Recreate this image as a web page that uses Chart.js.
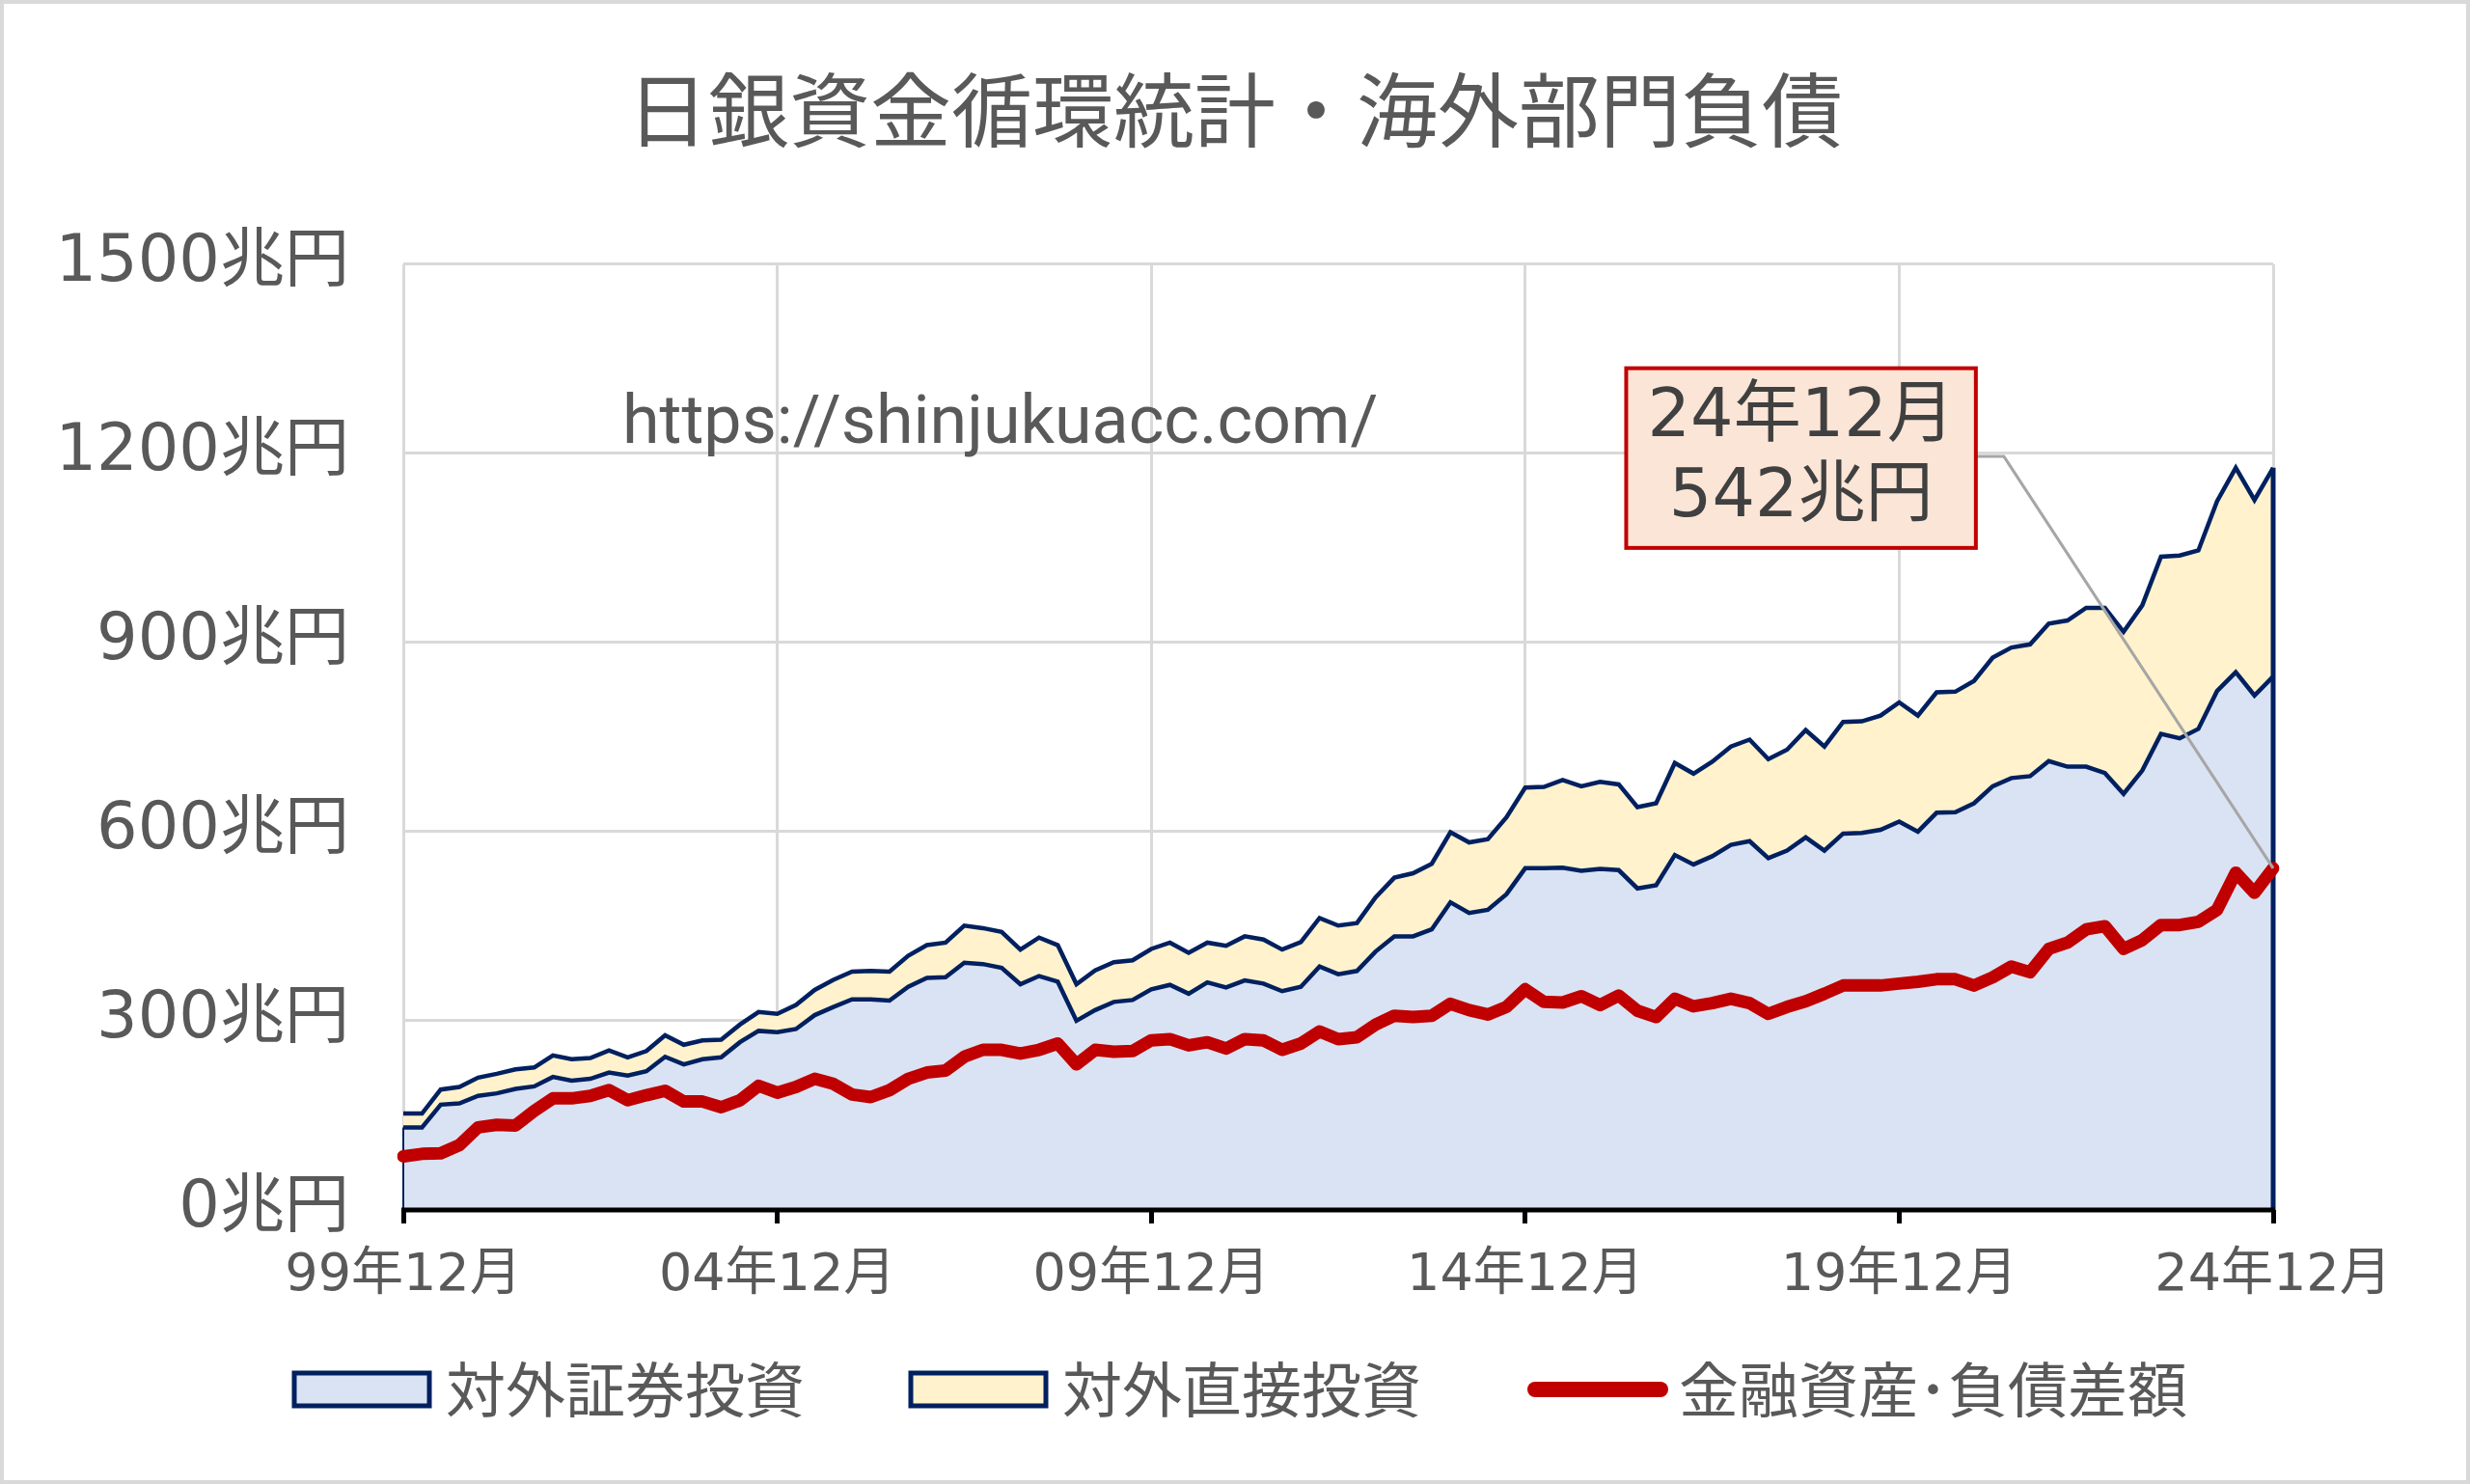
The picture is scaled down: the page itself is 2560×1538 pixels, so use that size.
<!DOCTYPE html>
<html lang="ja">
<head>
<meta charset="UTF-8">
<title>日銀資金循環統計・海外部門負債</title>
<script src="https://cdn.jsdelivr.net/npm/chart.js"></script>
<style>
  html, body { margin: 0; padding: 0; background: #fff; }
  #wrap { width: 2560px; height: 1538px; }
</style>
</head>
<body>
<div id="wrap"><canvas id="chart" width="2560" height="1538"></canvas></div>
<script>
  // quarterly labels, 99年12月 .. 24年12月
  const labels = [];
  for (let i = 0; i <= 100; i++) {
    const month = [12, 3, 6, 9][i % 4];
    const year = 1999 + Math.ceil(i / 4);
    labels.push(String(year % 100).padStart(2, '0') + '年' + month + '月');
  }

  // 対外証券投資 (兆円)
  const securities = [
    131, 131, 167, 169, 181, 185, 192, 196, 211, 205,
    208, 218, 213, 220, 243, 231, 239, 242, 266, 284,
    282, 287, 309, 322, 334, 334, 332, 354, 368, 369,
    392, 390, 384, 358, 371, 362, 300, 317, 330, 333,
    350, 357, 343, 361, 353, 364, 359, 347, 354, 386,
    374, 379, 410, 434, 434, 445, 488, 471, 476, 501,
    542, 542, 543, 538, 541, 539, 510, 515, 563, 548,
    561, 579, 585, 558, 570, 591, 570, 597, 598, 603,
    616, 600, 630, 631, 645, 672, 685, 688, 712, 703,
    703, 693, 660, 697, 755, 748, 763, 823, 853, 816, 846
  ];

  // 対外直接投資 (兆円)
  const direct = [
    22, 22, 24, 26, 29, 31, 31, 30, 34, 34,
    33, 35, 29, 32, 34, 31, 30, 28, 28, 30,
    29, 38, 40, 43, 44, 45, 46, 49, 52, 55,
    59, 57, 57, 55, 61, 58, 58, 63, 63, 63,
    64, 67, 65, 63, 66, 70, 70, 66, 71, 77,
    77, 76, 86, 93, 100, 104, 111, 112, 112, 122,
    128, 129, 139, 134, 138, 136, 129, 130, 146, 144,
    150, 156, 161, 157, 160, 170, 165, 177, 177, 181,
    189, 184, 191, 191, 194, 204, 207, 209, 218, 232,
    252, 262, 257, 262, 281, 290, 283, 301, 324, 310, 331
  ];

  // 金融資産・負債差額 (兆円)
  const netPosition = [
    85, 89, 90, 103, 131, 135, 134, 157, 177, 177,
    181, 190, 174, 182, 189, 172, 172, 163, 174, 197,
    186, 195, 208, 200, 183, 179, 190, 208, 218, 221,
    243, 254, 254, 248, 254, 264, 231, 254, 251, 252,
    269, 271, 261, 266, 256, 271, 269, 254, 264, 283,
    271, 274, 294, 308, 306, 308, 327, 317, 310, 322,
    350, 330, 329, 339, 325, 340, 316, 306, 335, 323,
    328, 335, 328, 311, 322, 331, 343, 356, 356, 356,
    359, 362, 366, 366, 356, 369, 386, 377, 414, 424,
    445, 450, 414, 428, 452, 452, 457, 476, 535, 503, 542
  ];

  const TEXT = '#595959';
  const GRID = '#D9D9D9';
  const NAVY = '#002060';
  const RED = '#C00000';
  const jpFont = '"Noto Sans CJK JP", sans-serif';
  const numFont = '"DejaVu Sans", "Noto Sans CJK JP", sans-serif';

  const overlay = {
    id: 'overlay',
    beforeDraw(chart) {
      const ctx = chart.ctx;
      ctx.save();
      ctx.fillStyle = '#fff';
      ctx.fillRect(0, 0, chart.width, chart.height);
      ctx.strokeStyle = GRID;
      ctx.lineWidth = 4;
      ctx.strokeRect(2, 2, chart.width - 4, chart.height - 4);
      ctx.restore();
    },
    afterDatasetDraw(chart, args) {
      if (args.index !== 1) return;
      // area outlines on the left and right edges
      const x = chart.scales.x, y = chart.scales.y, ctx = chart.ctx;
      const n = labels.length - 1;
      ctx.save();
      ctx.strokeStyle = NAVY;
      ctx.lineWidth = 2;
      ctx.beginPath();
      ctx.moveTo(x.getPixelForValue(0), y.getPixelForValue(0));
      ctx.lineTo(x.getPixelForValue(0), y.getPixelForValue(securities[0]));
      ctx.stroke();
      ctx.lineWidth = 5;
      ctx.beginPath();
      ctx.moveTo(x.getPixelForValue(n), y.getPixelForValue(0));
      ctx.lineTo(x.getPixelForValue(n), y.getPixelForValue(securities[n] + direct[n]));
      ctx.stroke();
      ctx.restore();
    },
    afterDatasetsDraw(chart) {
      const x = chart.scales.x, y = chart.scales.y, ctx = chart.ctx;
      const area = chart.chartArea;
      const n = labels.length - 1;
      ctx.save();

      // x axis line
      ctx.strokeStyle = '#000';
      ctx.lineWidth = 5;
      ctx.beginPath();
      ctx.moveTo(area.left - 2, y.getPixelForValue(0));
      ctx.lineTo(area.right + 2, y.getPixelForValue(0));
      ctx.stroke();

      // url
      ctx.fillStyle = TEXT;
      ctx.font = '70px Roboto';
      ctx.textAlign = 'left';
      ctx.textBaseline = 'alphabetic';
      ctx.fillText('https://shinjukuacc.com/', area.left + 227, area.top + 185);

      // callout for the last value
      const bx0 = x.getPixelForValue(65.4), bx1 = x.getPixelForValue(84.1);
      const by0 = y.getPixelForValue(1335), by1 = y.getPixelForValue(1050);
      const ly = y.getPixelForValue(1195);
      ctx.strokeStyle = '#A6A6A6';
      ctx.lineWidth = 3;
      ctx.beginPath();
      ctx.moveTo(bx1, ly);
      ctx.lineTo(x.getPixelForValue(85.6), ly);
      ctx.lineTo(x.getPixelForValue(n), y.getPixelForValue(netPosition[n]));
      ctx.stroke();

      ctx.fillStyle = '#FBE5D6';
      ctx.fillRect(bx0, by0, bx1 - bx0, by1 - by0);
      ctx.strokeStyle = RED;
      ctx.lineWidth = 4;
      ctx.strokeRect(bx0, by0, bx1 - bx0, by1 - by0);

      ctx.fillStyle = '#404040';
      ctx.font = '70px ' + numFont;
      ctx.textAlign = 'center';
      ctx.textBaseline = 'middle';
      const cx = (bx0 + bx1) / 2, cy = (by0 + by1) / 2;
      ctx.fillText(labels[n], cx, cy - 41);
      ctx.fillText(Math.round(netPosition[n]) + '兆円', cx, cy + 42);
      ctx.restore();
    },
    afterDraw(chart) {
      // legend row under the axis
      const ctx = chart.ctx;
      const sets = chart.data.datasets;
      const boxW = 140, boxH = 34, gap = 17, itemGap = 110;
      ctx.save();
      ctx.font = '62px ' + jpFont;
      let total = 0;
      sets.forEach(ds => { total += boxW + gap + ctx.measureText(ds.label).width; });
      total += itemGap * (sets.length - 1);
      let lx = chart.width / 2 + 6 - total / 2;
      const ly = chart.height - 98;
      sets.forEach(ds => {
        if (ds.fill === false) {
          ctx.strokeStyle = ds.borderColor;
          ctx.lineWidth = 16;
          ctx.lineCap = 'round';
          ctx.beginPath();
          ctx.moveTo(lx + 8, ly);
          ctx.lineTo(lx + boxW - 2, ly);
          ctx.stroke();
        } else {
          ctx.fillStyle = ds.backgroundColor;
          ctx.fillRect(lx, ly - boxH / 2, boxW, boxH);
          ctx.strokeStyle = ds.borderColor;
          ctx.lineWidth = 5;
          ctx.strokeRect(lx, ly - boxH / 2, boxW, boxH);
        }
        ctx.fillStyle = TEXT;
        ctx.textAlign = 'left';
        ctx.textBaseline = 'middle';
        ctx.fillText(ds.label, lx + boxW + gap, ly);
        lx += boxW + gap + ctx.measureText(ds.label).width + itemGap;
      });
      ctx.restore();
    }
  };

  new Chart(document.getElementById('chart'), {
    type: 'line',
    data: {
      labels: labels,
      datasets: [
        {
          label: '対外証券投資',
          data: securities,
          stack: 'assets',
          fill: 'origin',
          backgroundColor: '#DAE3F3',
          borderColor: NAVY,
          borderWidth: 4.5,
          order: 1
        },
        {
          label: '対外直接投資',
          data: direct,
          stack: 'assets',
          fill: '-1',
          backgroundColor: '#FFF2CC',
          borderColor: NAVY,
          borderWidth: 4.5,
          order: 2
        },
        {
          label: '金融資産･負債差額',
          data: netPosition,
          stack: 'net',
          fill: false,
          backgroundColor: RED,
          borderColor: RED,
          borderWidth: 13,
          borderJoinStyle: 'round',
          borderCapStyle: 'round',
          order: 0
        }
      ]
    },
    options: {
      responsive: false,
      animation: false,
      elements: {
        point: { radius: 0, hoverRadius: 0 },
        line: { tension: 0 }
      },
      layout: { padding: { left: 4, right: 4, top: 0, bottom: 174 } },
      plugins: {
        filler: { drawTime: 'beforeDatasetsDraw' },
        tooltip: { enabled: false },
        legend: { display: false },
        title: {
          display: true,
          text: '日銀資金循環統計・海外部門負債',
          color: TEXT,
          font: { family: jpFont, size: 84, weight: 'normal' },
          padding: { top: 64, bottom: 109 }
        }
      },
      scales: {
        x: {
          offset: false,
          grid: {
            color: c => c.index % 20 === 0 ? GRID : 'rgba(0,0,0,0)',
            lineWidth: 3,
            tickColor: c => c.index % 20 === 0 ? '#000' : 'rgba(0,0,0,0)',
            tickLength: 14,
            tickWidth: 5
          },
          border: { display: false },
          ticks: {
            autoSkip: false,
            maxRotation: 0,
            color: TEXT,
            font: { family: numFont, size: 54 },
            padding: 23,
            callback: (v, i) => i % 20 === 0 ? labels[i] : ''
          },
          afterFit: s => { s.height = 110; }
        },
        y: {
          stacked: true,
          min: 0,
          max: 1500,
          grid: { color: GRID, lineWidth: 3, drawTicks: false },
          border: { display: false },
          ticks: {
            stepSize: 300,
            color: TEXT,
            font: { family: numFont, size: 67 },
            padding: 56,
            callback: v => v + '兆円'
          },
          afterFit: s => { s.width = 414; }
        },
        yRight: {
          position: 'right',
          display: true,
          grid: { display: false },
          border: { display: false },
          ticks: { display: false },
          afterFit: s => { s.width = 200; }
        }
      }
    },
    plugins: [overlay]
  });
</script>
</body>
</html>
